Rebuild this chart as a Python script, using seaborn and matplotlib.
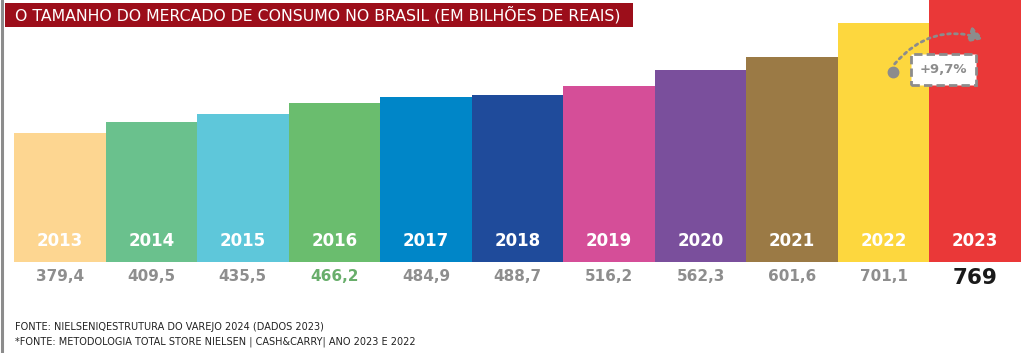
import matplotlib
matplotlib.use("Agg")
import matplotlib.pyplot as plt
import seaborn as sns
from matplotlib.patches import Rectangle
from matplotlib.lines import Line2D
from matplotlib.transforms import blended_transform_factory

# data
years = ["2013", "2014", "2015", "2016", "2017", "2018",
         "2019", "2020", "2021", "2022", "2023"]
values = [379.4, 409.5, 435.5, 466.2, 484.9, 488.7,
          516.2, 562.3, 601.6, 701.1, 769]
value_labels = ["379,4", "409,5", "435,5", "466,2", "484,9", "488,7",
                "516,2", "562,3", "601,6", "701,1", "769"]
bar_colors = ["#FDD691", "#6AC18D", "#5EC7DA", "#6ABD6E", "#0086C8", "#1F4B9B",
              "#D54E98", "#7A4F9C", "#9B7A45", "#FDD73E", "#EA3838"]
growth_label = "+9,7%"

title = "O TAMANHO DO MERCADO DE CONSUMO NO BRASIL (EM BILHÕES DE REAIS)"
foot1 = "FONTE: NIELSENIQESTRUTURA DO VAREJO 2024 (DADOS 2023)"
foot2 = "*FONTE: METODOLOGIA TOTAL STORE NIELSEN | CASH&CARRY| ANO 2023 E 2022"

sns.set_style("white")
plt.rcParams["font.family"] = ["DejaVu Sans"]

W, H = 1024, 353
fig = plt.figure(figsize=(W / 100, H / 100), dpi=100)
ax = fig.add_axes([14 / W, (H - 262) / H, 1007 / W, 262 / H])

sns.barplot(x=years, y=values, hue=years, palette=bar_colors, legend=False,
            width=1.0, saturation=1, linewidth=0, ax=ax)
ax.set_xlim(-0.5, 10.5)
ax.set_ylim(0, 769)
ax.set_axis_off()

tr = blended_transform_factory(ax.transData, ax.transAxes)
gray = "#8e8e8e"
for i, (yr, lab) in enumerate(zip(years, value_labels)):
    ax.text(i, 0.08, yr, transform=tr, ha="center", va="center",
            color="white", fontsize=12, fontweight="bold")
    if yr == "2023":
        ax.text(i, -0.06, lab, transform=tr, ha="center", va="center",
                color="#1a1a1a", fontsize=15.5, fontweight="bold", clip_on=False)
    else:
        c = "#68AE6B" if yr == "2016" else gray
        ax.text(i, -0.057, lab, transform=tr, ha="center", va="center",
                color=c, fontsize=11, fontweight="bold", clip_on=False)

# growth annotation
ax.plot([9.1], [557], marker="o", markersize=7.5, color="#8c8c8c", clip_on=False)
ax.annotate("", xy=(10.12, 652), xytext=(9.1, 575),
            arrowprops=dict(arrowstyle="-|>,head_length=0.8,head_width=0.45",
                            linestyle=(0, (1, 1.5)), lw=2, color="#8c8c8c",
                            connectionstyle="arc3,rad=-0.35"))
ax.text(9.65, 565, growth_label, ha="center", va="center", color="#8c8c8c",
        fontsize=9.5, fontweight="bold",
        bbox=dict(boxstyle="square,pad=0.65", facecolor="white",
                  edgecolor="#8c8c8c", linestyle=(0, (3, 1.5)), linewidth=2))

# title band
fig.add_artist(Rectangle((5 / W, (H - 27) / H), 628 / W, 24 / H,
                         transform=fig.transFigure, facecolor="#9C0E1A",
                         edgecolor="none"))
fig.text(15 / W, (H - 15) / H, title, color="white", fontsize=11.3,
         ha="left", va="center")

# left gray border
fig.add_artist(Line2D([1.5 / W, 1.5 / W], [0, 1], color="#8c8c8c", lw=2.2))

# footnotes
fig.text(15 / W, (H - 327) / H, foot1, color="#222222", fontsize=7,
         ha="left", va="center")
fig.text(15 / W, (H - 342) / H, foot2, color="#222222", fontsize=7,
         ha="left", va="center")

fig.savefig("out.png", dpi=100)
